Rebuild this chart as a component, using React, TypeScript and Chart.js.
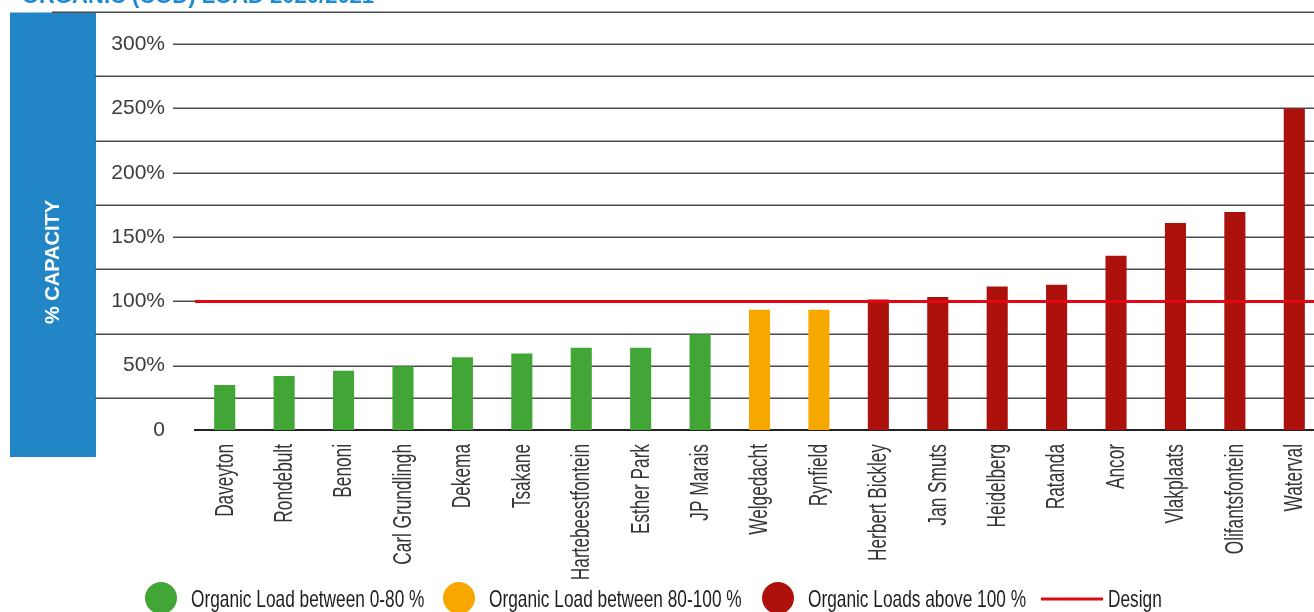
import React, { useEffect, useRef } from 'react';
import { Chart, registerables } from 'chart.js';

Chart.register(...registerables);

const chartTitle = 'ORGANIC (COD) LOAD 2020/2021';
const yAxisTitle = '% CAPACITY';

const plantNames = [
  'Daveyton', 'Rondebult', 'Benoni', 'Carl Grundlingh', 'Dekema', 'Tsakane',
  'Hartebeestfontein', 'Esther Park', 'JP Marais', 'Welgedacht', 'Rynfield',
  'Herbert Bickley', 'Jan Smuts', 'Heidelberg', 'Ratanda', 'Ancor', 'Vlakplaats',
  'Olifantsfontein', 'Waterval',
];
const capacityPercent = [
  35, 42, 46, 49.5, 56.5, 59.5,
  64, 64, 74.5, 93.5, 93.5,
  101.5, 103.5, 111.5, 113, 135.5, 161,
  169.5, 250,
];
const designCapacity = [100, 100];
const designSpan = [0, 1];
const bandLimits = [80, 100];
const bandColors = ['#41a636', '#f6a800', '#ac110c'];
const designColor = '#e30613';
const legendLabels = [
  'Organic Load between 0-80 %',
  'Organic Load between 80-100 %',
  'Organic Loads above 100 %',
  'Design',
];
const yMax = 325;
const yTickStep = 25;
const yLabelStep = 50;

const REGULAR = "'Liberation Sans', Arial, sans-serif";
const CONDENSE = 0.69;
const LEGEND_CONDENSE = 0.72;

function bandOf(v: number) {
  return v <= bandLimits[0] ? 0 : v <= bandLimits[1] ? 1 : 2;
}

const decorPlugin = {
  id: 'decor',
  beforeDraw(chart: any) {
    const ctx = chart.ctx as CanvasRenderingContext2D;
    ctx.save();
    ctx.fillStyle = '#ffffff';
    ctx.fillRect(0, 0, chart.width, chart.height);
    // side panel
    ctx.fillStyle = '#2185c6';
    ctx.fillRect(10, 12.5, 86, 444.5);
    // cropped title
    ctx.fillStyle = '#1a8bd2';
    ctx.font = `bold 22px ${REGULAR}`;
    ctx.textAlign = 'left';
    ctx.textBaseline = 'alphabetic';
    ctx.fillText(chartTitle, 22, 2.5);
    // vertical axis title
    ctx.translate(53, 262);
    ctx.rotate(-Math.PI / 2);
    ctx.fillStyle = '#ffffff';
    ctx.font = `bold 20px ${REGULAR}`;
    ctx.textAlign = 'center';
    ctx.textBaseline = 'middle';
    ctx.fillText(yAxisTitle, 0, 0);
    ctx.restore();
  },
  beforeDatasetsDraw(chart: any) {
    const ctx = chart.ctx as CanvasRenderingContext2D;
    const ys = chart.scales.y;
    const right = chart.chartArea.right;
    ctx.save();
    ctx.strokeStyle = '#4a4a4a';
    ctx.lineWidth = 1.5;
    for (let v = yTickStep; v <= yMax; v += yTickStep) {
      const py = Math.round(ys.getPixelForValue(v)) + 0.25;
      const x0 = v === yMax ? 52 : v % yLabelStep === 0 ? 173 : 95;
      ctx.beginPath();
      ctx.moveTo(x0, py);
      ctx.lineTo(right, py);
      ctx.stroke();
    }
    ctx.restore();
  },
  afterDraw(chart: any) {
    const ctx = chart.ctx as CanvasRenderingContext2D;
    const xs = chart.scales.x;
    // category labels (condensed, rotated)
    ctx.save();
    ctx.font = `25px ${REGULAR}`;
    ctx.fillStyle = '#363636';
    ctx.textAlign = 'right';
    ctx.textBaseline = 'middle';
    plantNames.forEach((name, i) => {
      const px = xs.getPixelForValue(i);
      ctx.save();
      ctx.translate(px + 1, 444);
      ctx.rotate(-Math.PI / 2);
      ctx.scale(CONDENSE, 1);
      ctx.fillText(name, 0, 0);
      ctx.restore();
    });
    ctx.restore();

    // legend
    const markerX = [161, 459, 778];
    const cy = 598;
    ctx.save();
    ctx.font = `24px ${REGULAR}`;
    ctx.textAlign = 'left';
    ctx.textBaseline = 'alphabetic';
    const drawText = (t: string, x: number) => {
      ctx.save();
      ctx.translate(x, 607);
      ctx.scale(LEGEND_CONDENSE, 1);
      ctx.fillStyle = '#1e1e1e';
      ctx.fillText(t, 0, 0);
      ctx.restore();
    };
    for (let i = 0; i < 3; i++) {
      ctx.fillStyle = bandColors[i];
      ctx.beginPath();
      ctx.arc(markerX[i], cy, 16, 0, Math.PI * 2);
      ctx.fill();
      drawText(legendLabels[i], markerX[i] + 30);
    }
    ctx.strokeStyle = designColor;
    ctx.lineWidth = 3;
    ctx.beginPath();
    ctx.moveTo(1041, 599);
    ctx.lineTo(1103, 599);
    ctx.stroke();
    drawText(legendLabels[3], 1108);
    ctx.restore();
  },
};

export default function App() {
  const canvasRef = useRef<HTMLCanvasElement | null>(null);

  useEffect(() => {
    const canvas = canvasRef.current;
    if (!canvas) return;
    const chart = new Chart(canvas, {
      type: 'bar',
      data: {
        labels: plantNames,
        datasets: [
          {
            type: 'line',
            label: legendLabels[3],
            data: designSpan.map((x, i) => ({ x, y: designCapacity[i] })),
            xAxisID: 'x2',
            borderColor: designColor,
            borderWidth: 3,
            pointRadius: 0,
            fill: false,
            order: 0,
          } as any,
          {
            type: 'bar',
            label: 'Capacity',
            data: capacityPercent,
            backgroundColor: capacityPercent.map((v) => bandColors[bandOf(v)]),
            borderWidth: 0,
            grouped: false,
            categoryPercentage: 1,
            barPercentage: 0.355,
            order: 1,
          } as any,
        ],
      },
      options: {
        animation: false,
        responsive: false,
        devicePixelRatio: 1,
        layout: { padding: { top: 12, left: 0, right: 0, bottom: 0 } },
        plugins: {
          legend: { display: false },
          tooltip: { enabled: false },
          title: { display: false },
        },
        scales: {
          x: {
            type: 'category',
            offset: true,
            grid: { display: false, drawTicks: false },
            border: { display: true, color: '#222222', width: 2 },
            ticks: { display: false },
            afterFit(scale: any) {
              scale.height = 182;
            },
          },
          x2: {
            type: 'linear',
            display: false,
            offset: false,
            position: 'bottom',
            grid: { display: false, offset: false, drawTicks: false },
            ticks: { display: false },
            min: 0,
            max: 1,
          },
          y: {
            min: 0,
            max: yMax,
            bounds: 'data',
            grid: { display: false, drawTicks: false },
            border: { display: false },
            ticks: {
              stepSize: yTickStep,
              maxTicksLimit: 40,
              padding: 30,
              color: '#3c3c3c',
              font: { family: REGULAR, size: 21 },
              callback: (value: any) => {
                const v = Number(value);
                if (v % yLabelStep !== 0) return '';
                return v === 0 ? '0' : `${v}%`;
              },
            },
            afterFit(scale: any) {
              scale.width = 195;
              scale.paddingTop = 0;
              scale.paddingBottom = 0;
            },
          },
        },
      } as any,
      plugins: [decorPlugin],
    });
    return () => chart.destroy();
  }, []);

  return (
    <div
      style={{
        position: 'fixed',
        left: 0,
        top: 0,
        width: 1314,
        height: 612,
        overflow: 'hidden',
        background: '#ffffff',
      }}
    >
      <canvas
        ref={canvasRef}
        width={1324}
        height={612}
        style={{ width: 1324, height: 612, display: 'block' }}
      />
    </div>
  );
}
